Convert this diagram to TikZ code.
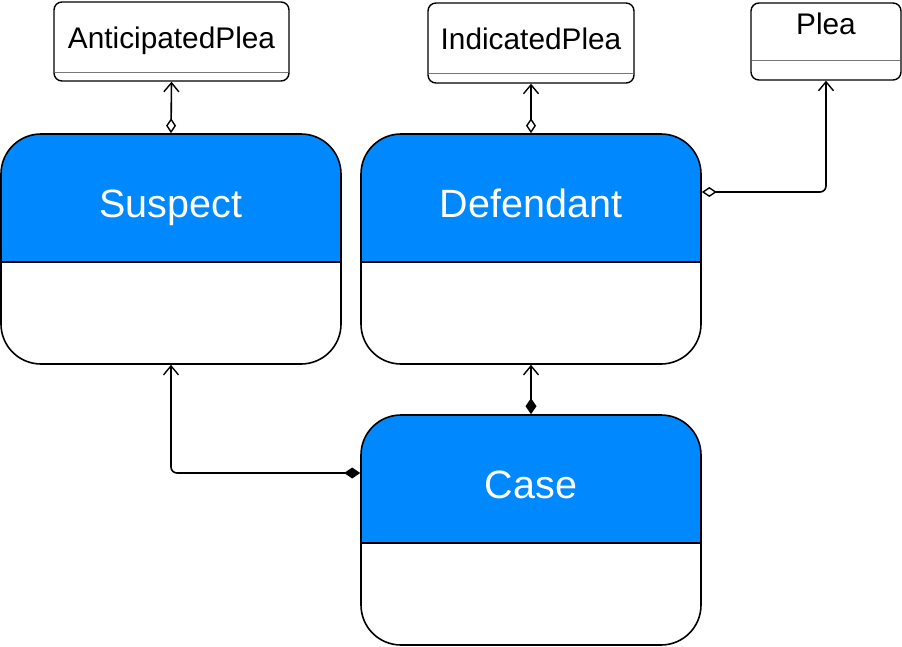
\documentclass[tikz,border=0pt]{standalone}
\usepackage{fontspec}
\setmainfont{Liberation Sans}
\usetikzlibrary{arrows.meta}
\definecolor{hdrblue}{RGB}{0,136,255}
\definecolor{sepgray}{RGB}{120,120,120}
\tikzset{
  bigbox/.style={draw=black, line width=1.6pt, fill=white, rounded corners=40pt,
    minimum width=340pt, minimum height=230pt, inner sep=0pt,
    path picture={
      \fill[hdrblue, sharp corners] (path picture bounding box.north west) rectangle ([yshift=-128pt]path picture bounding box.north east);
      \draw[black, line width=1.4pt, sharp corners] ([yshift=-128pt]path picture bounding box.north west) -- ([yshift=-128pt]path picture bounding box.north east);
    }},
  bigtitle/.style={text=white, font=\fontsize{39.5}{44}\selectfont, inner sep=0pt, anchor=base},
  smallbox/.style={draw=black, line width=1.4pt, fill=white, rounded corners=8pt, inner sep=0pt},
  smalltitle/.style={text=black, font=\fontsize{29.8}{34}\selectfont, inner sep=0pt, anchor=base},
  sepline/.style={draw=sepgray, line width=0.8pt},
  conn/.style={draw=black, line width=1.6pt, rounded corners=6pt},
  aggr/.style={conn, {Diamond[open, length=15pt, width=10pt, line width=1.4pt]}-{Straight Barb[length=9pt, width=15pt, line width=1.4pt]}},
  comp/.style={conn, {Diamond[length=16pt, width=11pt]}-{Straight Barb[length=9pt, width=15pt, line width=1.4pt]}},
}
\begin{document}
\begin{tikzpicture}[x=1pt, y=-1pt]
\useasboundingbox (0,0) rectangle (902,646);

% small boxes
\node[smallbox, minimum width=235pt, minimum height=79pt] (ant) at (171.5,41.5) {};
\draw[sepline] (55,72) -- (288,72);
\node[smalltitle] (antT) at (171.5,48) {AnticipatedPlea};

\node[smallbox, minimum width=206pt, minimum height=80pt] (ind) at (531,43) {};
\draw[sepline] (429,73) -- (633,73);
\node[smalltitle] (indT) at (531,49.5) {IndicatedPlea};

\node[smallbox, minimum width=150pt, minimum height=77pt] (plea) at (826,41.5) {};
\draw[sepline] (752,60) -- (900,60);
\node[smalltitle] (pleaT) at (826,34.5) {Plea};

% big boxes
\node[bigbox] (sus) at (171,249) {};
\node[bigtitle] (susT) at (171,217.5) {Suspect};

\node[bigbox] (def) at (531,249) {};
\node[bigtitle] (defT) at (531,217.5) {Defendant};

\node[bigbox] (case) at (531,530) {};
\node[bigtitle] (caseT) at (531,498.5) {Case};

% connectors
\draw[aggr] (sus.north) -- (ant.south);
\draw[aggr] (def.north) -- (ind.south);
\draw[aggr] ([yshift=57pt]def.east) -| (plea.south);
\draw[comp] (case.north) -- (def.south);
\draw[comp] ([yshift=57pt]case.west) -| (sus.south);
\end{tikzpicture}
\end{document}
